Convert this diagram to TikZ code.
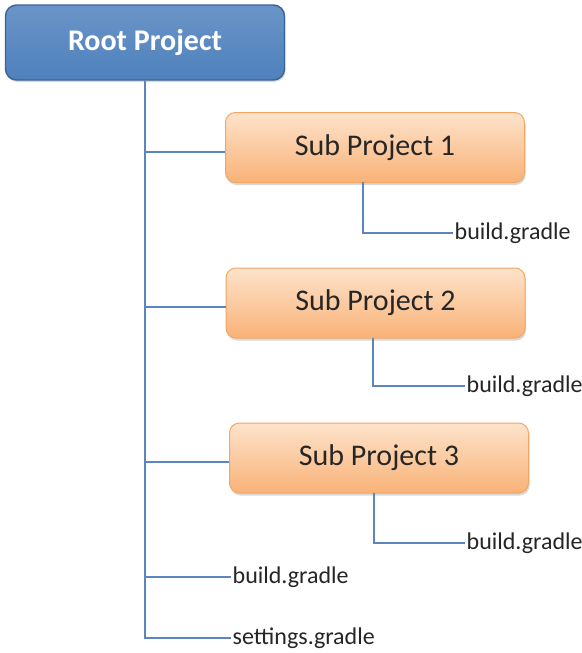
\documentclass[tikz,border=0pt]{standalone}
\usepackage{fontspec}
\setmainfont{Carlito}
\usetikzlibrary{shadows,calc}
\definecolor{rootfill}{HTML}{4F81BD}
\definecolor{rootedge}{HTML}{3A6398}
\definecolor{subtop}{HTML}{FDE3CB}
\definecolor{subbot}{HTML}{F9B277}
\definecolor{subedge}{HTML}{F2A765}
\definecolor{linkblue}{HTML}{5B85BE}
\definecolor{labeltext}{HTML}{262626}
\tikzset{
  rootbox/.style={draw=rootedge, line width=1.4pt, rounded corners=11pt,
    top color=rootfill!85!white, bottom color=rootfill, text=white,
    font=\fontsize{30}{34}\selectfont\bfseries,
    minimum width=279pt, minimum height=75pt,
    drop shadow={shadow xshift=1pt, shadow yshift=-2pt, opacity=0.3}},
  subbox/.style={draw=subedge, line width=1pt, rounded corners=10pt,
    top color=subtop, bottom color=subbot, text=labeltext,
    font=\fontsize{30}{34}\selectfont,
    minimum width=299pt, minimum height=70pt,
    drop shadow={shadow xshift=1pt, shadow yshift=-2.5pt, opacity=0.3}},
  filelabel/.style={anchor=west, inner sep=1.5pt, text=labeltext,
    font=\fontsize{24}{27}\selectfont},
  link/.style={draw=linkblue, line width=1.3pt},
}
\begin{document}
\begin{tikzpicture}[x=1pt, y=-1pt]
  \useasboundingbox[fill=white] (0,0) rectangle (581,653);

  % project boxes
  \node[rootbox] (root) at (145,42.5) {Root Project};
  \node[subbox] (s1) at (375,147.5) {Sub Project 1};
  \node[subbox] (s2) at (375.5,303) {Sub Project 2};
  \node[subbox] (s3) at (379,458) {Sub Project 3};

  % file labels
  \node[filelabel] (f1) at (453,233) {build.gradle};
  \node[filelabel] (f2) at (465,386) {build.gradle};
  \node[filelabel] (f3) at (465,543) {build.gradle};
  \node[filelabel] (f4) at (231,577) {build.gradle};
  \node[filelabel] (f5) at (231,638) {settings.gradle};

  % points on the trunk
  \coordinate (t1) at (145,152);
  \coordinate (t2) at (145,307);
  \coordinate (t3) at (145,462);
  \coordinate (t4) at (145,577);
  \coordinate (t5) at (145,638);

  % points below each sub project
  \coordinate (d1) at (363,182);
  \coordinate (d2) at (373,338);
  \coordinate (d3) at (374,493);

  % trunk and branches
  \draw[link] (root.south) -- (t5) -- (f5.west);
  \draw[link] (t1) -- (t1 -| s1.west);
  \draw[link] (t2) -- (t2 -| s2.west);
  \draw[link] (t3) -- (t3 -| s3.west);
  \draw[link] (t4) -- (f4.west);

  % sub project build files
  \draw[link] (d1) |- (f1.west);
  \draw[link] (d2) |- (f2.west);
  \draw[link] (d3) |- (f3.west);
\end{tikzpicture}
\end{document}
